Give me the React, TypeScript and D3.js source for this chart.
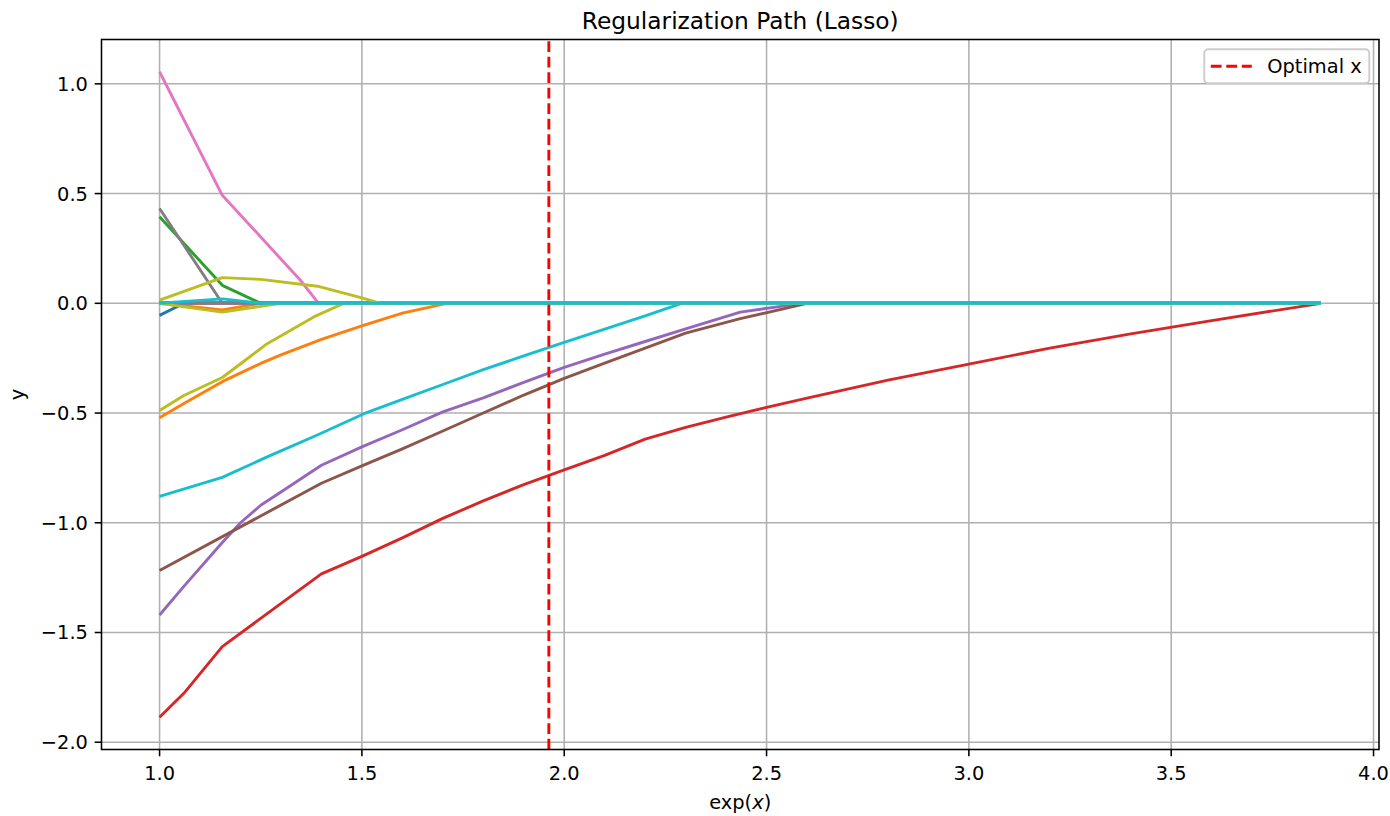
import React from 'react';
import * as d3 from 'd3';

const W = 1390;
const H = 816;
const margin = { left: 101.5, right: 11, top: 39.5, bottom: 66.5 };
const FONT = '"DejaVu Sans", sans-serif';

// coefficient paths as [exp(x), coef] pairs
const pathBlue = [[1.0, -0.055], [1.06, 0], [3.87, 0]];
const pathOrange = [[1.0, -0.521], [1.06, -0.457], [1.155, -0.357], [1.25, -0.274], [1.3, -0.235], [1.4, -0.164], [1.5, -0.103], [1.6, -0.045], [1.71, 0], [3.87, 0]];
const pathGreen = [[1.0, 0.394], [1.155, 0.082], [1.25, 0], [3.87, 0]];
const pathRed = [[1.0, -1.886], [1.06, -1.777], [1.155, -1.564], [1.4, -1.233], [1.5, -1.153], [1.6, -1.069], [1.7, -0.98], [1.8, -0.9], [1.9, -0.826], [2.0, -0.759], [2.1, -0.693], [2.2, -0.619], [2.3, -0.565], [2.4, -0.519], [2.5, -0.474], [2.6, -0.432], [2.8, -0.35], [3.0, -0.277], [3.2, -0.204], [3.4, -0.139], [3.6, -0.079], [3.87, 0]];
const pathPurple = [[1.0, -1.42], [1.06, -1.29], [1.155, -1.09], [1.2, -1.0], [1.25, -0.92], [1.3, -0.86], [1.4, -0.738], [1.5, -0.654], [1.6, -0.576], [1.7, -0.495], [1.8, -0.431], [1.9, -0.36], [2.0, -0.292], [2.1, -0.231], [2.2, -0.174], [2.3, -0.117], [2.435, -0.04], [2.535, -0.014], [2.59, 0], [3.87, 0]];
const pathBrown = [[1.0, -1.217], [1.4, -0.82], [1.5, -0.741], [1.6, -0.663], [1.7, -0.582], [1.8, -0.5], [1.9, -0.418], [2.0, -0.342], [2.1, -0.273], [2.2, -0.204], [2.3, -0.136], [2.435, -0.07], [2.6, 0], [3.87, 0]];
const pathPink = [[1.0, 1.055], [1.155, 0.492], [1.25, 0.302], [1.348, 0.105], [1.393, 0], [3.87, 0]];
const pathGray = [[1.0, 0.432], [1.155, 0], [3.87, 0]];
const pathOliveLow = [[1.0, -0.488], [1.06, -0.42], [1.155, -0.338], [1.266, -0.184], [1.381, -0.062], [1.455, 0], [3.87, 0]];
const pathCyan = [[1.0, -0.88], [1.155, -0.793], [1.266, -0.7], [1.39, -0.6], [1.505, -0.503], [1.6, -0.438], [1.7, -0.37], [1.8, -0.302], [1.9, -0.24], [2.0, -0.178], [2.1, -0.118], [2.2, -0.057], [2.29, 0], [3.87, 0]];
const pathOrangeDip = [[1.0, 0], [1.155, -0.03], [1.25, 0], [3.87, 0]];
const pathOliveHigh = [[1.0, 0.014], [1.155, 0.117], [1.25, 0.109], [1.39, 0.078], [1.5, 0.025], [1.546, 0], [3.87, 0]];
const pathOliveDip = [[1.0, 0], [1.155, -0.04], [1.3, 0], [3.87, 0]];
const pathZero = [[1.0, 0], [3.87, 0]];
const pathCyanSmall = [[1.0, 0], [1.155, 0.02], [1.25, 0], [3.87, 0]];

const tab10 = d3.schemeCategory10;
const series = [
  { color: tab10[0], pts: pathBlue },
  { color: tab10[1], pts: pathOrange },
  { color: tab10[2], pts: pathGreen },
  { color: tab10[3], pts: pathRed },
  { color: tab10[4], pts: pathPurple },
  { color: tab10[5], pts: pathBrown },
  { color: tab10[6], pts: pathPink },
  { color: tab10[7], pts: pathGray },
  { color: tab10[8], pts: pathOliveLow },
  { color: tab10[9], pts: pathCyan },
  { color: tab10[0], pts: pathZero },
  { color: tab10[1], pts: pathOrangeDip },
  { color: tab10[2], pts: pathZero },
  { color: tab10[3], pts: pathZero },
  { color: tab10[4], pts: pathZero },
  { color: tab10[5], pts: pathZero },
  { color: tab10[6], pts: pathZero },
  { color: tab10[7], pts: pathZero },
  { color: tab10[8], pts: pathOliveHigh },
  { color: tab10[8], pts: pathOliveDip },
  { color: tab10[9], pts: pathCyanSmall },
];

const optimalX = 1.962;
const xTicks = [1.0, 1.5, 2.0, 2.5, 3.0, 3.5, 4.0];
const yTicks = [-2.0, -1.5, -1.0, -0.5, 0.0, 0.5, 1.0];

const fmt = (v: number) => d3.format('.1f')(v).replace('-', '\u2212');

export default function App() {
  const innerW = W - margin.left - margin.right;
  const innerH = H - margin.top - margin.bottom;
  const allPts = series.flatMap((s) => s.pts);

  // matplotlib-like 5% margins around the data
  const [x0, x1] = d3.extent(allPts, (d) => d[0]) as [number, number];
  const [y0, y1] = d3.extent(allPts, (d) => d[1]) as [number, number];
  const px = (x1 - x0) * 0.05;
  const py = (y1 - y0) * 0.05;
  const x = d3.scaleLinear().domain([x0 - px, x1 + px]).range([0, innerW]);
  const y = d3.scaleLinear().domain([y0 - py, y1 + py]).range([innerH, 0]);

  const line = d3.line<number[]>().x((d) => x(d[0])).y((d) => y(d[1]));

  const lw = 2.9; // 1.5pt at ~140 dpi
  const thin = 1.56;
  const tickLen = 6.8;
  const fs = 19.4;

  return (
    <div style={{ position: 'absolute', left: 0, top: 0 }}>
      <svg width={W} height={H} style={{ display: 'block', background: '#fff' }} fontFamily={FONT}>
        <g transform={`translate(${margin.left},${margin.top})`}>
          {/* grid */}
          {xTicks.map((t) => (
            <line key={'gx' + t} x1={x(t)} x2={x(t)} y1={0} y2={innerH} stroke="#b0b0b0" strokeWidth={thin} />
          ))}
          {yTicks.map((t) => (
            <line key={'gy' + t} x1={0} x2={innerW} y1={y(t)} y2={y(t)} stroke="#b0b0b0" strokeWidth={thin} />
          ))}

          {/* coefficient paths */}
          <g clipPath="url(#plotClip)">
            {series.map((s, i) => (
              <path key={i} d={line(s.pts) || ''} fill="none" stroke={s.color} strokeWidth={lw} strokeLinejoin="round" strokeLinecap="butt" />
            ))}
            <line x1={x(optimalX)} x2={x(optimalX)} y1={innerH} y2={0} stroke="#ff0000" strokeWidth={lw} strokeDasharray="10.8,4.7" />
          </g>
          <defs>
            <clipPath id="plotClip">
              <rect x={0} y={0} width={innerW} height={innerH} />
            </clipPath>
          </defs>

          {/* spines */}
          <rect x={0} y={0} width={innerW} height={innerH} fill="none" stroke="#000" strokeWidth={thin} />

          {/* x ticks */}
          {xTicks.map((t) => (
            <g key={'xt' + t} transform={`translate(${x(t)},${innerH})`}>
              <line y1={0} y2={tickLen} stroke="#000" strokeWidth={thin} />
              <text y={30.5} textAnchor="middle" fontSize={fs} fill="#000">{fmt(t)}</text>
            </g>
          ))}
          {/* y ticks */}
          {yTicks.map((t) => (
            <g key={'yt' + t} transform={`translate(0,${y(t)})`}>
              <line x1={0} x2={-tickLen} stroke="#000" strokeWidth={thin} />
              <text x={-2 * tickLen} dy="0.36em" textAnchor="end" fontSize={fs} fill="#000">{fmt(t)}</text>
            </g>
          ))}

          {/* legend */}
          <g transform={`translate(${innerW - 9.7 - 165},${9.7})`}>
            <rect x={0} y={0} width={165} height={34} rx={4} fill="#fff" fillOpacity={0.8} stroke="#cccccc" strokeWidth={1.9} />
            <line x1={6.5} x2={47.5} y1={17} y2={17} stroke="#ff0000" strokeWidth={lw} strokeDasharray="10.8,4.7" />
            <text x={63} y={24} fontSize={fs} fill="#000">Optimal x</text>
          </g>
        </g>

        <text x={margin.left + innerW / 2} y={29} textAnchor="middle" fontSize={23.3} fill="#000">
          Regularization Path (Lasso)
        </text>
        <text x={margin.left + innerW / 2} y={809} textAnchor="middle" fontSize={fs} fill="#000">
          exp(<tspan fontStyle="italic">x</tspan>)
        </text>
        <text transform={`translate(24,${margin.top + innerH / 2}) rotate(-90)`} textAnchor="middle" fontSize={fs} fill="#000">
          y
        </text>
      </svg>
    </div>
  );
}
